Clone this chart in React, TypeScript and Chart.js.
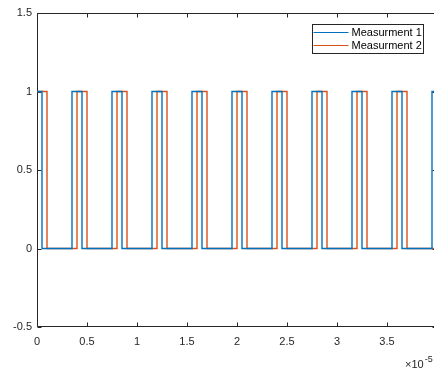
import React, { useEffect, useRef } from "react";
import { Chart, registerables } from "chart.js";

Chart.register(...registerables);

// x values in units of 1e-5
const xTicks = [0, 0.5, 1, 1.5, 2, 2.5, 3, 3.5, 4];
const yTicks = [-0.5, 0, 0.5, 1, 1.5];

const seriesNames = ["Measurment 1", "Measurment 2"];
const seriesColors = ["#0072BD", "#D95319"];

// transition times (x) and the level the signal switches to at that time
const m1Times = [0, 0.05, 0.35, 0.45, 0.75, 0.85, 1.15, 1.25, 1.55, 1.65, 1.95, 2.05, 2.35, 2.45, 2.75, 2.85, 3.15, 3.25, 3.55, 3.65, 3.95, 4.0];
const m1Levels = [1, 0, 1, 0, 1, 0, 1, 0, 1, 0, 1, 0, 1, 0, 1, 0, 1, 0, 1, 0, 1, 1];
const m2Times = [0, 0.1, 0.4, 0.5, 0.8, 0.9, 1.2, 1.3, 1.6, 1.7, 2.0, 2.1, 2.4, 2.5, 2.8, 2.9, 3.2, 3.3, 3.6, 3.7, 4.0];
const m2Levels = [1, 0, 1, 0, 1, 0, 1, 0, 1, 0, 1, 0, 1, 0, 1, 0, 1, 0, 1, 0, 1];

const FONT = "'Liberation Sans', Arial, Helvetica, sans-serif";
const AXIS_COLOR = "#262626";

const boxPlugin = {
  id: "matlabBox",
  beforeDatasetsDraw(chart: any) {
    const { ctx, chartArea } = chart;
    const xs = chart.scales.x;
    const ys = chart.scales.y;
    const L = Math.round(chartArea.left) + 0.5;
    const R = Math.round(chartArea.right) - 0.5;
    const T = Math.round(chartArea.top) + 0.5;
    const B = Math.round(chartArea.bottom) - 0.5;
    ctx.save();
    ctx.strokeStyle = AXIS_COLOR;
    ctx.lineWidth = 1;
    ctx.beginPath();
    ctx.rect(L, T, R - L, B - T);
    ctx.stroke();
    const tl = 4;
    ctx.beginPath();
    for (const v of xTicks) {
      const px = Math.round(xs.getPixelForValue(v)) + 0.5;
      ctx.moveTo(px, B);
      ctx.lineTo(px, B - tl);
      ctx.moveTo(px, T);
      ctx.lineTo(px, T + tl);
    }
    for (const v of yTicks) {
      const py = Math.round(ys.getPixelForValue(v)) + 0.5;
      ctx.moveTo(L, py);
      ctx.lineTo(L + tl, py);
      ctx.moveTo(R, py);
      ctx.lineTo(R - tl, py);
    }
    ctx.stroke();
    ctx.restore();
  },
  afterDraw(chart: any) {
    const { ctx, chartArea } = chart;
    ctx.save();
    // exponent label
    ctx.fillStyle = AXIS_COLOR;
    ctx.textBaseline = "alphabetic";
    ctx.textAlign = "left";
    ctx.font = `11px ${FONT}`;
    const ex = chartArea.right - 32;
    ctx.fillText("\u00d710", ex, 368);
    const w = ctx.measureText("\u00d710").width;
    ctx.font = `9px ${FONT}`;
    ctx.fillText("-5", ex + w + 1, 362);

    // legend
    const lx = Math.round(chartArea.right) - 125 + 0.5;
    const ly = Math.round(chartArea.top) + 11 + 0.5;
    const lw = 111;
    const lh = 29;
    ctx.fillStyle = "#ffffff";
    ctx.fillRect(lx, ly, lw, lh);
    ctx.strokeStyle = AXIS_COLOR;
    ctx.lineWidth = 1;
    ctx.strokeRect(lx, ly, lw, lh);
    ctx.font = `11px ${FONT}`;
    ctx.textBaseline = "middle";
    for (let i = 0; i < seriesNames.length; i++) {
      const ry = Math.round(ly + 7.5 + i * 12.5) + 0.5;
      ctx.strokeStyle = seriesColors[i];
      ctx.beginPath();
      ctx.moveTo(lx + 1, ry);
      ctx.lineTo(lx + 36, ry);
      ctx.stroke();
      ctx.fillStyle = "#000000";
      ctx.fillText(seriesNames[i], lx + 39, ry + 0.5);
    }
    ctx.restore();
  },
};

const fmt = (v: any) => String(Math.round(Number(v) * 100) / 100);

export default function App() {
  const ref = useRef<HTMLCanvasElement>(null);
  useEffect(() => {
    if (!ref.current) return;
    const d1 = m1Times.map((t, i) => ({ x: t, y: m1Levels[i] }));
    const d2 = m2Times.map((t, i) => ({ x: t, y: m2Levels[i] }));
    const chart = new Chart(ref.current, {
      type: "line",
      data: {
        datasets: [
          {
            label: seriesNames[0],
            data: d1,
            borderColor: seriesColors[0],
            borderWidth: 1.4,
            pointRadius: 0,
            stepped: "before",
            fill: false,
          },
          {
            label: seriesNames[1],
            data: d2,
            borderColor: seriesColors[1],
            borderWidth: 1.4,
            pointRadius: 0,
            stepped: "before",
            fill: false,
          },
        ],
      },
      options: {
        responsive: false,
        animation: false,
        layout: { padding: { left: 0, top: 13, right: 10, bottom: 0 } },
        plugins: {
          legend: { display: false },
          tooltip: { enabled: false },
        },
        scales: {
          x: {
            type: "linear",
            min: 0,
            max: 4,
            afterBuildTicks: (s: any) => {
              s.ticks = xTicks.map((v) => ({ value: v }));
            },
            afterFit: (s: any) => {
              s.height = 43;
              s.paddingLeft = 0;
              s.paddingRight = 0;
            },
            grid: { display: false, drawTicks: false },
            border: { display: false },
            ticks: {
              color: AXIS_COLOR,
              font: { size: 11, family: FONT },
              padding: 8,
              maxRotation: 0,
              autoSkip: false,
              callback: fmt,
            },
          },
          y: {
            type: "linear",
            min: -0.5,
            max: 1.5,
            afterBuildTicks: (s: any) => {
              s.ticks = yTicks.map((v) => ({ value: v }));
            },
            afterFit: (s: any) => {
              s.width = 37;
              s.paddingTop = 0;
              s.paddingBottom = 0;
            },
            grid: { display: false, drawTicks: false },
            border: { display: false },
            ticks: {
              color: AXIS_COLOR,
              font: { size: 11, family: FONT },
              padding: 5,
              autoSkip: false,
              callback: fmt,
            },
          },
        },
      },
      plugins: [boxPlugin],
    });
    return () => chart.destroy();
  }, []);
  return (
    <div
      style={{
        position: "absolute",
        left: 0,
        top: 0,
        width: 434,
        height: 370,
        overflow: "hidden",
        background: "#ffffff",
      }}
    >
      <canvas ref={ref} width={447} height={370} style={{ display: "block", width: 447, height: 370 }} />
    </div>
  );
}
